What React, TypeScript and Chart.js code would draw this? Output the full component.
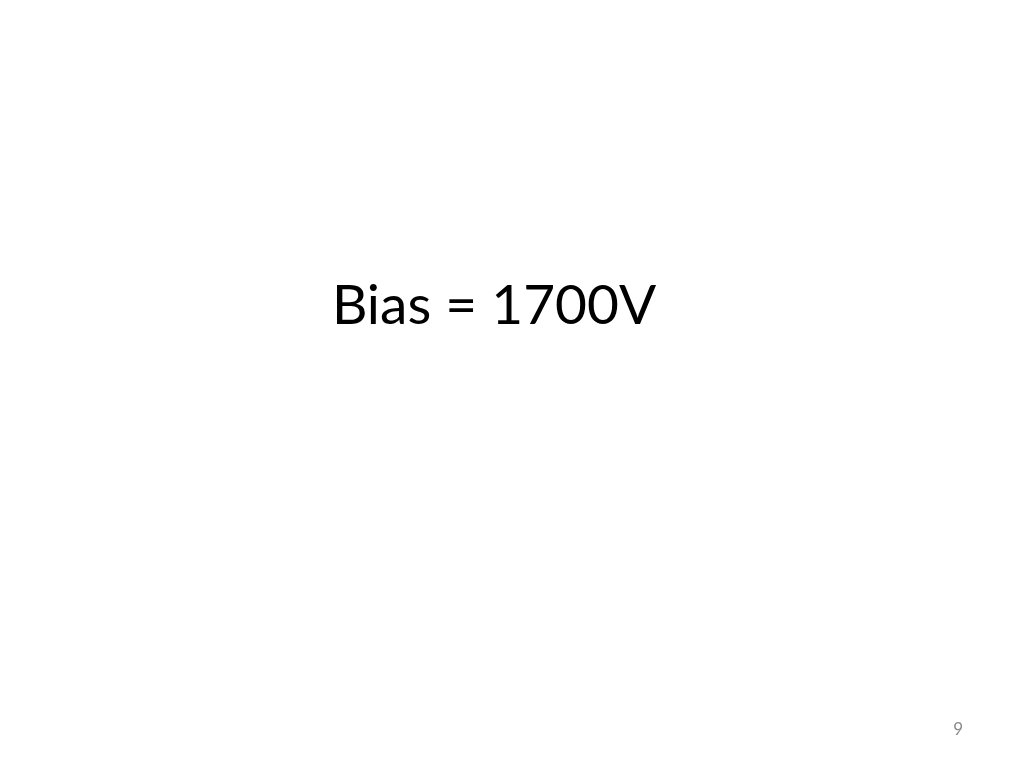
import { useEffect, useRef } from 'react';
import { Chart, registerables } from 'chart.js';

Chart.register(...registerables);

// slide text
const slideTitle = ['Bias = 1700V'];
const pageNumber = ['9'];
const labels: string[] = [];
const values: number[] = [];

export default function App() {
  const canvasRef = useRef<HTMLCanvasElement | null>(null);

  useEffect(() => {
    if (!canvasRef.current) return;

    const chart = new Chart(canvasRef.current, {
      type: 'line',
      data: {
        labels,
        datasets: [{ label: slideTitle[0], data: values }],
      },
      options: {
        animation: false,
        responsive: true,
        maintainAspectRatio: false,
        layout: { padding: { left: 25, right: 61, top: 0, bottom: 28 } },
        plugins: {
          legend: { display: false },
          tooltip: { enabled: false },
          title: {
            display: true,
            text: slideTitle[0],
            color: '#000000',
            font: { family: 'Lato', size: 55, weight: 'normal' },
            padding: { top: 273, bottom: 0 },
          },
          subtitle: {
            display: true,
            position: 'bottom',
            align: 'end',
            text: pageNumber[0],
            color: '#8a8a8a',
            font: { family: 'Lato', size: 17, weight: 'normal' },
            padding: 0,
          },
        },
        scales: {
          x: { display: false },
          y: { display: false },
        },
      },
    });

    return () => chart.destroy();
  }, []);

  return (
    <div style={{ position: 'fixed', left: 0, top: 0, width: 1024, height: 768, background: '#fff' }}>
      <canvas ref={canvasRef} aria-label={slideTitle[0]} />
    </div>
  );
}
